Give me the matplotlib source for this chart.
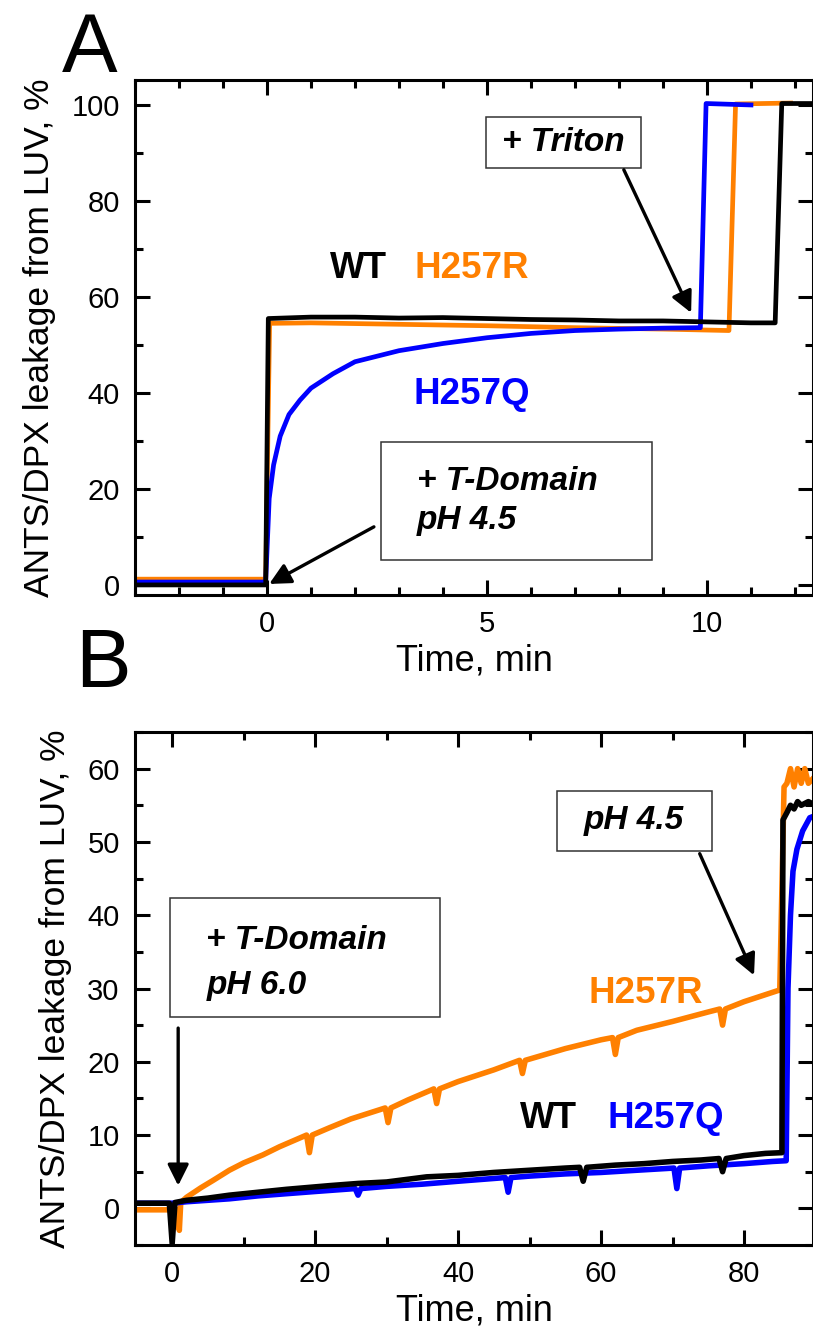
import numpy as np
import matplotlib
matplotlib.use('Agg')
from matplotlib import pyplot as plt
from matplotlib.patches import Rectangle
from matplotlib.ticker import MultipleLocator

plt.rcParams['font.family'] = ['Liberation Sans', 'DejaVu Sans']

BLACK = '#000000'
ORANGE = '#FF8000'
BLUE = '#0000FF'

# ---- panel A : leakage at pH 4.5, time in min ----
a_wt_t = [-3, -0.03, 0.03, 1, 2, 3, 4, 5, 6, 7, 8, 9, 10, 11, 11.55, 11.7, 12.5]
a_wt_v = [0.0, 0.0, 55.5, 55.8, 55.8, 55.6, 55.7, 55.5, 55.3, 55.2, 55.0, 55.0, 54.8, 54.6, 54.6, 100.3, 100.3]

a_r_t = [-3, -0.03, 0.06, 1, 3, 5, 7, 9, 10.5, 10.65, 11.9]
a_r_v = [1.2, 1.2, 54.5, 54.6, 54.3, 54.0, 53.6, 53.3, 53.0, 100.2, 100.4]

a_q_t = [-3, -0.03, 0.05, 0.15, 0.3, 0.5, 0.75, 1, 1.5, 2, 3, 4, 5, 6, 7, 8, 9, 9.85, 9.98, 11.0]
a_q_v = [0.6, 0.6, 18, 25, 31, 35.5, 38.5, 41, 44, 46.5, 48.8, 50.3, 51.5, 52.4, 53.0, 53.3, 53.5, 53.6, 100.3, 100.0]

# ---- panel B : leakage at pH 6.0 then pH 4.5 ----
b_wt_t = [-5, -1, -0.4, 0, 0.4, 2, 5, 8, 12, 16, 22, 26, 30, 35.6, 40, 45, 50, 55, 57, 57.5, 58,
          62, 66, 70, 74, 76.5, 77, 77.5, 80, 83, 85.3, 85.45, 86, 86.5, 87, 87.5, 88, 89, 90]
b_wt_v = [0.7, 0.7, 0.7, -4.8, 0.8, 1.1, 1.4, 1.8, 2.2, 2.6, 3.1, 3.4, 3.6, 4.3, 4.5, 4.9, 5.2, 5.5, 5.6, 3.7, 5.6,
          5.9, 6.1, 6.4, 6.6, 6.8, 5.0, 6.8, 7.2, 7.5, 7.6, 53.0, 54.0, 55.0, 54.5, 55.5, 55.0, 55.5, 55.0]

b_r_t = [-5, 0.8, 1.0, 1.2, 2, 4, 5.7, 8, 10, 12.7, 15, 18.8, 19.2, 19.6, 22, 25, 29.8, 30.2, 30.6,
         33, 36.6, 37, 37.4, 40, 45, 48.6, 49, 49.4, 55, 60, 61.6, 62, 62.4, 65, 70, 75, 76.6, 77, 77.4,
         80, 85, 85.6, 86, 86.5, 87, 87.5, 88, 88.5, 89, 90]
b_r_v = [-0.2, -0.2, -3.0, 0.8, 1.5, 2.8, 3.8, 5.2, 6.2, 7.3, 8.4, 10.0, 7.6, 10.0, 11.0, 12.2, 13.7, 11.7, 13.7,
         14.8, 16.3, 14.3, 16.3, 17.3, 18.9, 20.2, 18.4, 20.2, 21.8, 23.0, 23.3, 21.0, 23.3, 24.3, 25.5, 26.8, 27.2, 25.0, 27.2,
         28.2, 29.8, 57.5, 58.0, 60.0, 57.5, 60.0, 58.0, 60.0, 58.0, 59.0]

b_q_t = [-5, 0, 2, 5, 8, 12, 16, 20, 25.6, 26, 26.4, 30, 35, 40, 46.6, 47, 47.4, 50, 55, 60,
         65, 70.2, 70.6, 71, 75, 80, 84, 85.9, 86.15, 86.5, 86.85, 87.4, 88.2, 89.2, 90]
b_q_v = [0.7, 0.7, 0.9, 1.1, 1.3, 1.7, 2.0, 2.3, 2.7, 1.8, 2.7, 3.0, 3.3, 3.7, 4.2, 2.2, 4.2, 4.4, 4.7, 4.9,
         5.2, 5.5, 2.7, 5.5, 5.8, 6.1, 6.4, 6.5, 30.0, 40.0, 46.0, 49.0, 51.5, 53.3, 53.6]

fig = plt.figure(figsize=(8.13, 13.32), dpi=100)
axA = fig.add_axes([135/813, 1-595/1332, 678/813, 515/1332])
axB = fig.add_axes([135/813, 1-1245/1332, 678/813, 513/1332])


def style_axis(ax, xmaj, xmin, ymaj, ymin):
    for s in ax.spines.values():
        s.set_linewidth(2.2)
    ax.xaxis.set_major_locator(MultipleLocator(xmaj))
    ax.xaxis.set_minor_locator(MultipleLocator(xmin))
    ax.yaxis.set_major_locator(MultipleLocator(ymaj))
    ax.yaxis.set_minor_locator(MultipleLocator(ymin))
    ax.tick_params(which='both', direction='in', top=True, right=True, width=2.2, labelsize=21, pad=11)
    ax.tick_params(which='major', length=11)
    ax.tick_params(which='minor', length=6)
    ax.set_xlabel('Time, min', fontsize=26, labelpad=4)
    ax.set_ylabel('ANTS/DPX leakage from LUV, %', fontsize=25.5, labelpad=11)


def box(ax, x0, x1, y0, y1):
    ax.add_patch(Rectangle((x0, y0), x1-x0, y1-y0, fill=True, facecolor='white',
                           edgecolor='#333333', lw=1.1, zorder=5))


def arrow(ax, tail, head):
    ax.annotate('', xy=head, xytext=tail,
                arrowprops=dict(arrowstyle='-|>', color='k', lw=2.4, mutation_scale=32,
                                shrinkA=0, shrinkB=0), zorder=6)


BI = dict(fontsize=24, fontweight='bold', fontstyle='italic', zorder=7, va='center')
LB = dict(fontsize=26.5, fontweight='bold', ha='center', va='center')

# panel A
axA.plot(a_r_t, a_r_v, color=ORANGE, lw=3.4)
axA.plot(a_q_t, a_q_v, color=BLUE, lw=3.4)
axA.plot(a_wt_t, a_wt_v, color=BLACK, lw=3.4)
axA.set_xlim(-3, 12.41)
axA.set_ylim(-2.1, 105.2)
style_axis(axA, 5, 1, 20, 10)

box(axA, 4.98, 8.5, 86.9, 97.5)
axA.text(6.74, 92.2, '+ Triton', ha='center', **BI)
arrow(axA, (8.11, 86.5), (9.64, 56.7))

box(axA, 2.59, 8.75, 5.2, 29.8)
axA.text(3.4, 21.5, '+ T-Domain', ha='left', **BI)
axA.text(3.4, 13.5, 'pH 4.5', ha='left', **BI)
arrow(axA, (2.43, 12.1), (0.05, 0.2))

axA.text(2.09, 66, 'WT', color=BLACK, **LB)
axA.text(4.66, 66, 'H257R', color=ORANGE, **LB)
axA.text(4.66, 39.6, 'H257Q', color=BLUE, **LB)

# panel B
axB.plot(b_r_t, b_r_v, color=ORANGE, lw=4)
axB.plot(b_q_t, b_q_v, color=BLUE, lw=4)
axB.plot(b_wt_t, b_wt_v, color=BLACK, lw=4)
axB.set_xlim(-5.2, 89.65)
axB.set_ylim(-5, 65)
style_axis(axB, 20, 10, 10, 5)

box(axB, -0.28, 37.5, 26.1, 42.3)
axB.text(4.8, 36.6, '+ T-Domain', ha='left', **BI)
axB.text(4.8, 30.4, 'pH 6.0', ha='left', **BI)
arrow(axB, (0.84, 24.6), (0.84, 3.1))

box(axB, 53.8, 75.5, 48.8, 57.0)
axB.text(64.6, 52.9, 'pH 4.5', ha='center', **BI)
arrow(axB, (73.8, 48.4), (81.4, 31.8))

axB.text(66.2, 29.3, 'H257R', color=ORANGE, **LB)
axB.text(52.7, 12.3, 'WT', color=BLACK, **LB)
axB.text(69.0, 12.3, 'H257Q', color=BLUE, **LB)

fig.text(62/813, 1-72/1332, 'A', fontsize=60, va='baseline', ha='left')
fig.text(75/813, 1-687/1332, 'B', fontsize=60, va='baseline', ha='left')

fig.savefig('out.png', dpi=100)
